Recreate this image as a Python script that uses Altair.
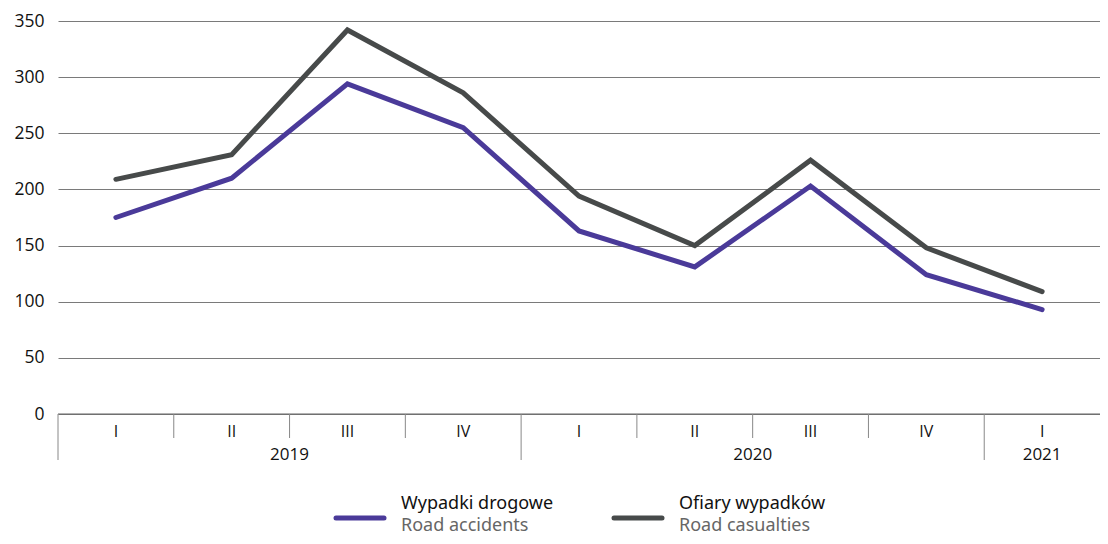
import altair as alt
import pandas as pd

quarters = ["I", "II", "III", "IV", "I", "II", "III", "IV", "I"]
years = ["2019", "2019", "2019", "2019", "2020", "2020", "2020", "2020", "2021"]
accidents = [175, 210, 294, 255, 163, 131, 203, 124, 93]
casualties = [209, 231, 342, 286, 194, 150, 226, 148, 109]
series_pl = ["Wypadki drogowe", "Ofiary wypadków"]
series_en = ["Road accidents", "Road casualties"]
colors = ["#4a3a99", "#474a4a"]
year_labels = ["2019", "2020", "2021"]
year_centers = [2.0, 6.0, 8.5]
short_bounds = [1, 2, 3, 5, 6, 7]
long_bounds = [0, 4, 8]

W, H = 1042, 393
FONT_AX = "Open Sans"
FONT_LG = "Noto Sans"

rows = []
for i in range(len(quarters)):
    rows.append({"pos": i + 0.5, "value": accidents[i], "series": series_pl[0]})
    rows.append({"pos": i + 0.5, "value": casualties[i], "series": series_pl[1]})
df = pd.DataFrame(rows)

xscale = alt.Scale(domain=[0, 9], nice=False, zero=False)
X = lambda f: alt.X(f, type="quantitative", scale=xscale, axis=None)

lines = alt.Chart(df).mark_line(strokeWidth=5, strokeCap="round", strokeJoin="miter").encode(
    x=X("pos"),
    y=alt.Y("value:Q", scale=alt.Scale(domain=[0, 350], nice=False),
            axis=alt.Axis(values=list(range(0, 351, 50)), title=None, domainOpacity=0,
                          ticks=False, labelPadding=14, labelFont=FONT_AX, labelFontSize=17.5,
                          labelColor="#111", grid=True, gridColor="#7a7a7a", gridWidth=1)),
    color=alt.Color("series:N", scale=alt.Scale(domain=series_pl, range=colors), legend=None),
)

base_line = alt.Chart(pd.DataFrame({"a": [0], "b": [9]})).mark_rule(color="#666", strokeWidth=1.2).encode(
    x=X("a"), x2="b", y=alt.value(H))

qdf = pd.DataFrame({"pos": [i + 0.5 for i in range(9)], "q": quarters})
qtext = alt.Chart(qdf).mark_text(font=FONT_AX, fontSize=16, color="#111", baseline="middle").encode(
    x=X("pos"), y=alt.value(H + 17.5), text="q:N")

ydf = pd.DataFrame({"pos": year_centers, "y": year_labels})
ytext = alt.Chart(ydf).mark_text(font=FONT_AX, fontSize=17, color="#111", baseline="middle").encode(
    x=X("pos"), y=alt.value(H + 40.5), text="y:N")

sdf = pd.DataFrame({"pos": short_bounds})
srules = alt.Chart(sdf).mark_rule(color="#888", strokeWidth=1).encode(
    x=X("pos"), y=alt.value(H), y2=alt.value(H + 24))
ldf = pd.DataFrame({"pos": long_bounds})
lrules = alt.Chart(ldf).mark_rule(color="#888", strokeWidth=1).encode(
    x=X("pos"), y=alt.value(H), y2=alt.value(H + 46))

# legend
lg_x = [278, 556]
lgdf = pd.DataFrame({"x": lg_x, "x2": [x + 48 for x in lg_x], "c": series_pl})
lg_lines = alt.Chart(lgdf).mark_rule(strokeWidth=5, strokeCap="round").encode(
    x=alt.X("x:Q", scale=None), x2="x2:Q", y=alt.value(H + 104),
    color=alt.Color("c:N", scale=alt.Scale(domain=series_pl, range=colors), legend=None))
lt1 = pd.DataFrame({"x": [x + 65 for x in lg_x], "t": series_pl})
lg_t1 = alt.Chart(lt1).mark_text(font=FONT_LG, fontSize=18, color="#111", align="left", baseline="middle").encode(
    x=alt.X("x:Q", scale=None), y=alt.value(H + 90), text="t:N")
lt2 = pd.DataFrame({"x": [x + 65 for x in lg_x], "t": series_en})
lg_t2 = alt.Chart(lt2).mark_text(font=FONT_LG, fontSize=18, color="#666", align="left", baseline="middle").encode(
    x=alt.X("x:Q", scale=None), y=alt.value(H + 112), text="t:N")

chart = alt.layer(lines, base_line, srules, lrules, qtext, ytext, lg_lines, lg_t1, lg_t2).properties(
    width=W, height=H,
    autosize=alt.AutoSizeParams(type="none"),
    padding={"left": 50, "top": 13, "right": 0, "bottom": 122},
).configure_view(stroke=None)

chart.save("out.html", embed_options={"renderer": "svg", "actions": False})
